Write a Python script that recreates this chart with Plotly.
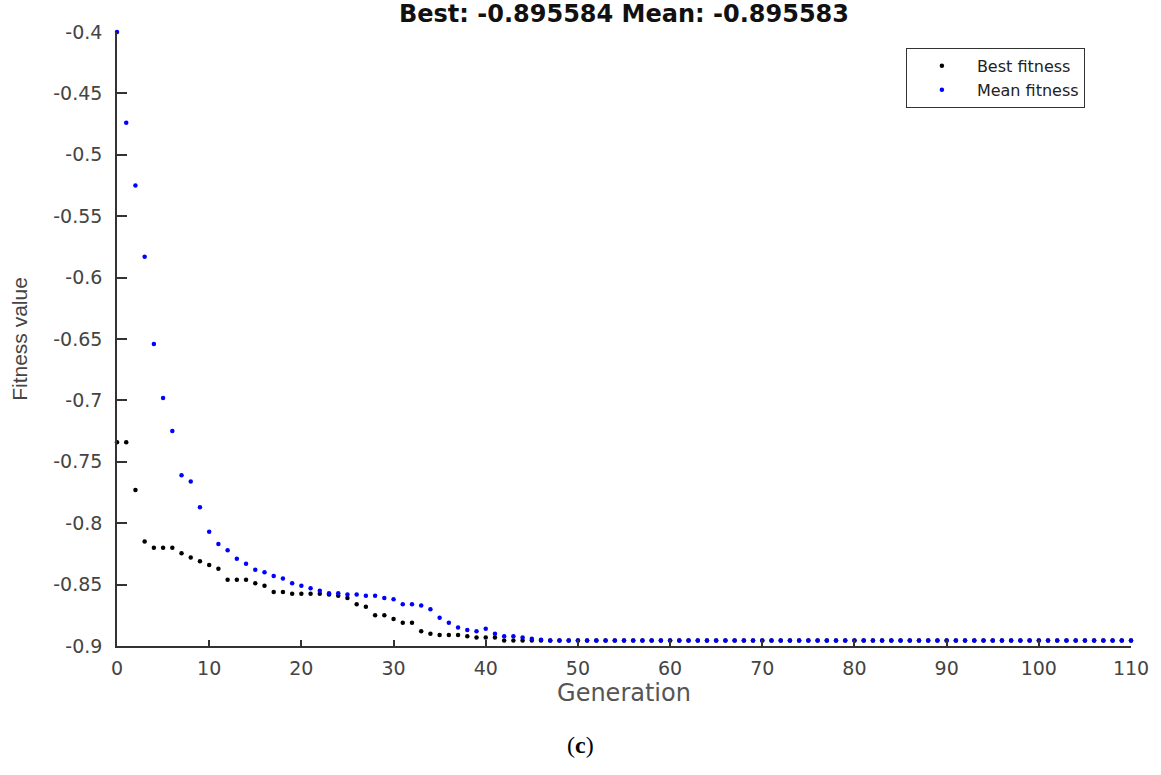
import plotly.graph_objects as go

generations = list(range(0, 111))

best_fitness = [
    -0.734, -0.734, -0.773, -0.815, -0.820, -0.820, -0.820, -0.8245, -0.828, -0.831,
    -0.834, -0.837, -0.846, -0.846, -0.846, -0.849, -0.851, -0.856, -0.856, -0.8575,
    -0.8575, -0.8575, -0.8575, -0.858, -0.859, -0.861, -0.866, -0.868, -0.875, -0.875,
    -0.878, -0.881, -0.881, -0.888, -0.890, -0.891, -0.891, -0.891, -0.892, -0.893,
    -0.893, -0.893, -0.8956, -0.8956, -0.8956, -0.8956, -0.8956, -0.8956, -0.8956, -0.8956,
    -0.895584, -0.895584, -0.895584, -0.895584, -0.895584, -0.895584, -0.895584, -0.895584, -0.895584, -0.895584,
    -0.895584, -0.895584, -0.895584, -0.895584, -0.895584, -0.895584, -0.895584, -0.895584, -0.895584, -0.895584,
    -0.895584, -0.895584, -0.895584, -0.895584, -0.895584, -0.895584, -0.895584, -0.895584, -0.895584, -0.895584,
    -0.895584, -0.895584, -0.895584, -0.895584, -0.895584, -0.895584, -0.895584, -0.895584, -0.895584, -0.895584,
    -0.895584, -0.895584, -0.895584, -0.895584, -0.895584, -0.895584, -0.895584, -0.895584, -0.895584, -0.895584,
    -0.895584, -0.895584, -0.895584, -0.895584, -0.895584, -0.895584, -0.895584, -0.895584, -0.895584, -0.895584,
    -0.895584,
]

mean_fitness = [
    -0.400, -0.474, -0.525, -0.583, -0.654, -0.698, -0.725, -0.761, -0.766, -0.787,
    -0.807, -0.817, -0.822, -0.829, -0.833, -0.838, -0.840, -0.843, -0.845, -0.849,
    -0.851, -0.853, -0.855, -0.857, -0.857, -0.858, -0.858, -0.859, -0.859, -0.861,
    -0.862, -0.866, -0.866, -0.867, -0.870, -0.877, -0.881, -0.885, -0.887, -0.888,
    -0.886, -0.890, -0.892, -0.892, -0.893, -0.894, -0.895, -0.8956, -0.8956, -0.8956,
    -0.895583, -0.895583, -0.895583, -0.895583, -0.895583, -0.895583, -0.895583, -0.895583, -0.895583, -0.895583,
    -0.895583, -0.895583, -0.895583, -0.895583, -0.895583, -0.895583, -0.895583, -0.895583, -0.895583, -0.895583,
    -0.895583, -0.895583, -0.895583, -0.895583, -0.895583, -0.895583, -0.895583, -0.895583, -0.895583, -0.895583,
    -0.895583, -0.895583, -0.895583, -0.895583, -0.895583, -0.895583, -0.895583, -0.895583, -0.895583, -0.895583,
    -0.895583, -0.895583, -0.895583, -0.895583, -0.895583, -0.895583, -0.895583, -0.895583, -0.895583, -0.895583,
    -0.895583, -0.895583, -0.895583, -0.895583, -0.895583, -0.895583, -0.895583, -0.895583, -0.895583, -0.895583,
    -0.895583,
]

x_ticks = [0, 10, 20, 30, 40, 50, 60, 70, 80, 90, 100, 110]
y_ticks = [-0.9, -0.85, -0.8, -0.75, -0.7, -0.65, -0.6, -0.55, -0.5, -0.45, -0.4]
y_tick_text = ["-0.9", "-0.85", "-0.8", "-0.75", "-0.7", "-0.65", "-0.6", "-0.55", "-0.5", "-0.45", "-0.4"]

fig = go.Figure()
fig.add_trace(go.Scatter(
    x=generations, y=best_fitness, mode="markers", name="Best fitness",
    marker=dict(color="#000000", size=4.5), cliponaxis=False,
))
fig.add_trace(go.Scatter(
    x=generations, y=mean_fitness, mode="markers", name="Mean fitness",
    marker=dict(color="#0000ff", size=4.5), cliponaxis=False,
))

title_text = "Best: %.6f Mean: %.6f" % (best_fitness[-1], mean_fitness[-1])

fig.update_layout(
    width=1161, height=775,
    margin=dict(l=117, r=30, t=32, b=129),
    paper_bgcolor="white", plot_bgcolor="white",
    title=dict(text="<b>" + title_text + "</b>", x=0.5, xref="paper", xanchor="center",
               y=1 - 14 / 775, yanchor="middle",
               font=dict(family="DejaVu Sans", size=24, color="#111111")),
    showlegend=True,
    legend=dict(x=0.778, y=0.974, xanchor="left", yanchor="top",
                bgcolor="white", bordercolor="#333333", borderwidth=1,
                font=dict(family="DejaVu Sans", size=16, color="#222222"),
                itemwidth=60, tracegroupgap=0),
    xaxis=dict(range=[0, 110], tickvals=x_ticks, ticks="inside", ticklen=6, tickwidth=1.5,
               tickcolor="#333333", showline=True, linecolor="#333333", linewidth=1.5,
               showgrid=False, zeroline=False, ticklabelstandoff=4,
               tickfont=dict(family="DejaVu Sans", size=19, color="#444444"),
               title=dict(text="Generation", standoff=3,
                          font=dict(family="DejaVu Sans", size=24, color="#555555"))),
    yaxis=dict(range=[-0.9, -0.4], tickvals=y_ticks, ticktext=y_tick_text, ticks="inside",
               ticklen=10, tickwidth=1.5, tickcolor="#333333", showline=True,
               linecolor="#333333", linewidth=1.5, showgrid=False, zeroline=False,
               ticklabelstandoff=9,
               tickfont=dict(family="DejaVu Sans", size=19, color="#444444"),
               title=dict(text="Fitness value", standoff=20,
                          font=dict(family="Liberation Sans", size=21,
                                    color="#444444"))),
    annotations=[dict(text="(<b>c</b>)", x=0.457, y=-0.161, xref="paper", yref="paper",
                      showarrow=False, xanchor="center", yanchor="middle",
                      font=dict(family="Liberation Serif", size=24, color="#000000"))],
)

fig.write_html("out.html")
